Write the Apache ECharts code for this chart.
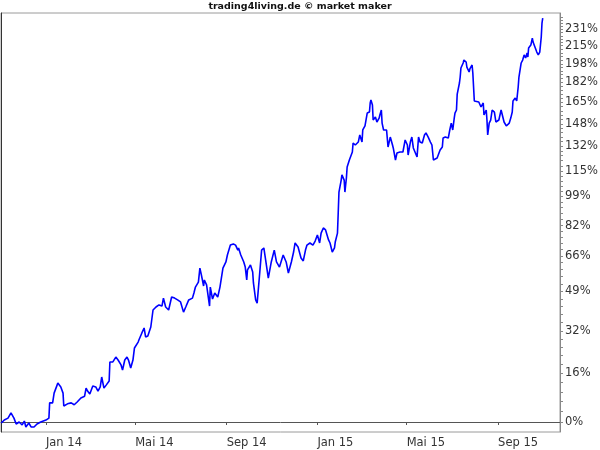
<!DOCTYPE html>
<html><head><meta charset="utf-8">
<script src="https://cdn.jsdelivr.net/npm/echarts@6/dist/echarts.min.js"></script>
<style>html,body{margin:0;padding:0;background:#fff}#c{width:600px;height:450px}</style>
</head><body><div id="c"></div>
<script>
const chartTitle = 'trading4living.de © market maker';
const monthNames = ['Jan','Feb','Mär','Apr','Mai','Jun','Jul','Aug','Sep','Okt','Nov','Dez'];
const xTickDates = ['2014-01-01','2014-05-01','2014-09-01','2015-01-01','2015-05-01','2015-09-01'];
const xRange = ['2013-11-01T14:00:00Z','2015-11-23T05:00:00Z'];
const yTickLabels = [0,16,32,49,66,82,99,115,132,148,165,182,198,215,231];
const yRangePct = [-3.0, 248.0];

const dates = [
'2013-11-02','2013-11-06','2013-11-11','2013-11-15','2013-11-19','2013-11-22','2013-11-26','2013-11-30',
'2013-12-03','2013-12-05','2013-12-09','2013-12-12','2013-12-16','2013-12-20','2013-12-25',
'2014-01-01','2014-01-05','2014-01-06','2014-01-10','2014-01-12','2014-01-16','2014-01-17','2014-01-21','2014-01-24','2014-01-25','2014-01-30',
'2014-02-04','2014-02-08','2014-02-12','2014-02-17','2014-02-22','2014-02-24','2014-02-26',
'2014-03-01','2014-03-05','2014-03-09','2014-03-12','2014-03-15','2014-03-17','2014-03-20','2014-03-23','2014-03-27','2014-03-28',
'2014-04-01','2014-04-05','2014-04-08','2014-04-12','2014-04-14','2014-04-17','2014-04-20','2014-04-22','2014-04-25','2014-04-28','2014-04-30',
'2014-05-05','2014-05-06','2014-05-10','2014-05-13','2014-05-15','2014-05-18','2014-05-22','2014-05-25','2014-05-29',
'2014-06-02','2014-06-06','2014-06-08','2014-06-11','2014-06-15','2014-06-19','2014-06-23','2014-06-27',
'2014-07-01','2014-07-05','2014-07-08','2014-07-12','2014-07-17','2014-07-19','2014-07-21','2014-07-25','2014-07-27','2014-07-29',
'2014-08-01','2014-08-02','2014-08-05','2014-08-09','2014-08-10','2014-08-13','2014-08-16','2014-08-20','2014-08-23','2014-08-27','2014-08-31',
'2014-09-02','2014-09-06','2014-09-10','2014-09-13','2014-09-16','2014-09-17','2014-09-20','2014-09-24','2014-09-26','2014-09-28','2014-09-29',
'2014-10-03','2014-10-06','2014-10-07','2014-10-10','2014-10-12','2014-10-14','2014-10-15','2014-10-18','2014-10-21','2014-10-23','2014-10-27','2014-10-31',
'2014-11-04','2014-11-07','2014-11-11','2014-11-16','2014-11-20','2014-11-23','2014-11-27','2014-11-30',
'2014-12-02','2014-12-06','2014-12-10','2014-12-13','2014-12-16','2014-12-18','2014-12-22','2014-12-26','2014-12-29',
'2015-01-01','2015-01-04','2015-01-06','2015-01-09','2015-01-12','2015-01-13','2015-01-16','2015-01-18','2015-01-21','2015-01-24','2015-01-25','2015-01-28','2015-01-29','2015-01-30',
'2015-02-02','2015-02-03','2015-02-06','2015-02-07','2015-02-09','2015-02-10','2015-02-13','2015-02-17','2015-02-18','2015-02-21','2015-02-25','2015-02-27',
'2015-03-02','2015-03-03','2015-03-06','2015-03-09','2015-03-12','2015-03-13','2015-03-14','2015-03-16','2015-03-17','2015-03-20','2015-03-22','2015-03-25','2015-03-26','2015-03-28','2015-03-29','2015-03-31',
'2015-04-04','2015-04-06','2015-04-09','2015-04-12','2015-04-13','2015-04-16','2015-04-18','2015-04-22','2015-04-26','2015-04-29',
'2015-05-02','2015-05-03','2015-05-06','2015-05-08','2015-05-10','2015-05-12','2015-05-15','2015-05-17','2015-05-19','2015-05-22','2015-05-25','2015-05-27','2015-05-30',
'2015-06-02','2015-06-04','2015-06-06','2015-06-08','2015-06-11','2015-06-15','2015-06-18','2015-06-19','2015-06-22','2015-06-26','2015-06-28','2015-06-30',
'2015-07-02','2015-07-04','2015-07-05','2015-07-07','2015-07-08','2015-07-11','2015-07-12','2015-07-13','2015-07-16','2015-07-17','2015-07-20','2015-07-21','2015-07-24','2015-07-25','2015-07-28','2015-07-29','2015-07-31',
'2015-08-02','2015-08-06','2015-08-09','2015-08-12','2015-08-13','2015-08-16','2015-08-17','2015-08-18','2015-08-20','2015-08-22','2015-08-24','2015-08-27','2015-08-29',
'2015-09-02','2015-09-05','2015-09-09','2015-09-12','2015-09-16','2015-09-18','2015-09-20','2015-09-21','2015-09-24','2015-09-26','2015-09-28','2015-09-29',
'2015-10-02','2015-10-04','2015-10-06','2015-10-08','2015-10-10','2015-10-11','2015-10-12','2015-10-15','2015-10-17','2015-10-18','2015-10-21','2015-10-23','2015-10-25','2015-10-27','2015-10-29','2015-10-30','2015-10-31'
];
const values = [
-0.3,0.6,1.2,2.8,1.2,-0.6,0,-0.9,
0.3,-1.5,-0.3,-1.5,-1.5,-0.6,0,
0.6,1.2,6.0,6.0,9.2,11.9,12.6,11.3,9.2,5.0,5.7,
6.0,5.4,6.3,7.6,8.2,10.9,9.9,
8.9,11.6,11.3,9.9,11.3,14.7,10.9,11.9,13.3,20.1,
20.1,21.9,20.8,19.0,17.2,20.8,21.9,20.8,17.9,20.8,25.3,
27.6,28.4,31.2,33.2,29.6,30.0,33.6,40.7,42.0,
42.9,42.4,45.9,42.0,40.7,46.4,45.9,45.1,
44.2,39.8,42.0,45.1,45.9,48.2,50.9,53.2,59.9,56.6,
51.4,54.2,51.9,42.4,50.9,45.5,48.2,46.4,50.9,59.9,62.9,
66.4,71.5,72.1,71.5,68.9,70.0,66.4,62.9,60.4,54.2,59.0,
61.4,58.0,52.8,45.1,43.7,44.2,55.6,68.9,70.0,64.9,55.1,62.9,
68.9,62.9,60.4,66.4,62.9,57.5,62.9,67.9,
72.6,70.5,64.9,63.4,68.9,71.5,72.6,71.5,73.6,
76.9,72.6,77.9,80.7,79.6,80.2,74.2,72.6,67.9,70.0,73.1,77.9,89.1,101.6,
109.1,112.4,109.1,101.6,110.4,117.6,122.3,127.8,134.1,132.7,134.8,139.9,
134.8,143.6,146.6,156.5,157.3,164.5,166.9,162.9,151.1,153.4,149.6,152.6,155.0,158.9,148.8,143.6,
143.6,131.3,138.4,132.7,130.6,122.3,127.1,127.8,127.8,136.3,
132.7,125.7,134.8,138.4,130.6,129.2,124.3,138.4,134.8,134.1,139.9,141.4,138.4,
134.8,132.7,122.3,121.6,123.6,129.2,131.3,137.7,138.4,137.7,143.6,148.8,
143.6,152.6,156.5,158.9,171.8,181.1,186.3,194.3,198.8,201.5,199.7,195.1,190.7,193.4,197.0,189.8,166.1,
164.5,165.3,161.3,164.5,155.0,158.9,151.1,139.9,148.8,151.1,158.9,157.3,149.6,
151.1,158.9,149.6,146.6,148.8,152.6,157.3,166.1,168.5,166.1,177.7,186.3,
198.8,201.5,206.2,203.4,208.0,204.3,212.7,215.6,222.4,218.5,212.7,208.9,206.2,208.9,223.4,237.5,242.7
];

const toLog = p => Math.log(1 + p / 100);
const fromLog = v => (Math.exp(v) - 1) * 100;

const seriesData = dates.map((d, i) => [Date.parse(d), toLog(values[i])]);
const xTicks = xTickDates.map(d => Date.parse(d));
const yMajor = yTickLabels.map(toLog);
const yAllTicks = [];
for (let i = 0; i < yTickLabels.length; i++) {
  const a = yTickLabels[i];
  const b = i < yTickLabels.length - 1 ? yTickLabels[i + 1] : a + (a - yTickLabels[i - 1]);
  for (let k = 0; k < 5; k++) {
    const p = a + (b - a) * k / 5;
    if (p <= yRangePct[1]) yAllTicks.push(toLog(p));
  }
}

const chart = echarts.init(document.getElementById('c'), null, {renderer: 'canvas'});
const font = 'DejaVu Sans';
chart.setOption({
  animation: false,
  backgroundColor: '#ffffff',
  title: {
    text: chartTitle, left: 'center', top: 1, padding: 0,
    textStyle: {fontFamily: font, fontSize: 9.5, fontWeight: 'bold', color: '#111', lineHeight: 11}
  },
  grid: {left: 1, right: 40, top: 13, bottom: 18, show: true, borderColor: '#9a9a9a', borderWidth: 1, containLabel: false, outerBoundsMode: 'none'},
  xAxis: {
    type: 'value',
    min: Date.parse(xRange[0]), max: Date.parse(xRange[1]),
    splitLine: {show: false},
    axisLine: {show: true, lineStyle: {color: '#555', width: 1}},
    axisTick: {show: true, customValues: xTicks, length: 3, lineStyle: {color: '#555'}},
    axisLabel: {
      customValues: xTicks, align: 'left', margin: 5,
      color: '#333', fontFamily: font, fontSize: 11.5,
      formatter: v => { const d = new Date(v); return monthNames[d.getUTCMonth()] + ' ' + String(d.getUTCFullYear()).slice(2); }
    }
  },
  yAxis: [{
    type: 'value', position: 'right',
    min: toLog(yRangePct[0]), max: toLog(yRangePct[1]),
    splitLine: {show: false},
    axisLine: {show: true, lineStyle: {color: '#888', width: 1}},
    axisTick: {show: true, customValues: yAllTicks, length: 3, lineStyle: {color: '#888'}},
    axisLabel: {
      customValues: yMajor, margin: 5, color: '#333', fontFamily: font, fontSize: 11.5,
      formatter: v => {
        const p = fromLog(v);
        let best = yTickLabels[0];
        yTickLabels.forEach(t => { if (Math.abs(t - p) < Math.abs(best - p)) best = t; });
        return best + '%';
      }
    }
  }, {
    type: 'value', position: 'left',
    min: toLog(yRangePct[0]), max: toLog(yRangePct[1]),
    splitLine: {show: false},
    axisLine: {show: true, lineStyle: {color: '#333', width: 1}},
    axisTick: {show: false}, axisLabel: {show: false}
  }],
  series: [{
    type: 'line', yAxisIndex: 0, data: seriesData,
    showSymbol: false, symbol: 'none',
    lineStyle: {color: '#0000ff', width: 1.6},
    emphasis: {disabled: true}
  }]
});
</script></body></html>
